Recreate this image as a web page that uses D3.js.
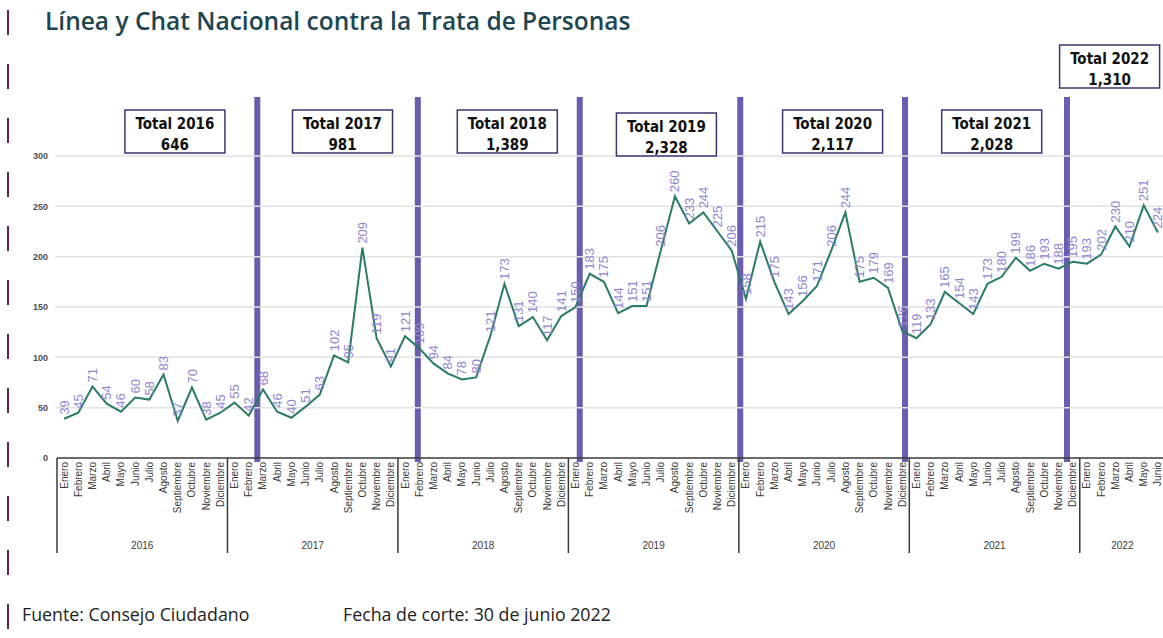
<!DOCTYPE html>
<html>
<head>
<meta charset="utf-8">
<script src="https://cdn.jsdelivr.net/npm/d3@7"></script>
<style>
  body { margin: 0; background: #fff; }
  svg { display: block; }
</style>
</head>
<body>
<svg id="chart" width="1163" height="638"></svg>
<script>
const months = ['Enero', 'Febrero', 'Marzo', 'Abril', 'Mayo', 'Junio', 'Julio',
  'Agosto', 'Septiembre', 'Octubre', 'Noviembre', 'Diciembre'];
const years = ['2016', '2017', '2018', '2019', '2020', '2021', '2022'];

const v2016 = [39, 45, 71, 54, 46, 60, 58, 83, 37, 70, 38, 45];
const v2017 = [55, 42, 68, 46, 40, 51, 63, 102, 95, 209, 119, 91];
const v2018 = [121, 109, 94, 84, 78, 80, 121, 173, 131, 140, 117, 141];
const v2019 = [150, 183, 175, 144, 151, 151, 206, 260, 233, 244, 225, 206];
const v2020 = [158, 215, 175, 143, 156, 171, 206, 244, 175, 179, 169, 126];
const v2021 = [119, 133, 165, 154, 143, 173, 180, 199, 186, 193, 188, 195];
const v2022 = [193, 202, 230, 210, 251, 224];
const yTicks = [0, 50, 100, 150, 200, 250, 300];

const byYear = [v2016, v2017, v2018, v2019, v2020, v2021, v2022];

// flatten into one row per month
const data = [];
byYear.forEach((vals, yi) => {
  vals.forEach((v, mi) => {
    data.push({ key: years[yi] + '-' + mi, year: years[yi], month: months[mi], value: v });
  });
});

// overlay markers, placed in month-index units (as in the original slide)
const dividerAt = [13.6, 24.9, 36.3, 47.6, 59.2, 70.6];
const boxAt = [7.8, 19.6, 31.2, 42.4, 54.1, 65.3, 73.6];
const boxTop = [110, 110, 110, 113, 110, 110, 45];

const svg = d3.select('#chart');
const plotLeft = 57, plotRight = 1165, plotTop = 156, plotBottom = 458;

const x = d3.scaleBand()
  .domain(data.map((d) => d.key))
  .range([plotLeft, plotRight])
  .padding(0);
const step = x.bandwidth();
const xi = d3.scaleLinear().domain([0, 1]).range([plotLeft + step / 2, plotLeft + step * 1.5]);

const y = d3.scaleLinear().domain([0, 300]).range([plotBottom, plotTop]);

// decorative dashed strip at left
svg.append('line')
  .attr('x1', 8).attr('x2', 8).attr('y1', 10).attr('y2', 638)
  .attr('stroke', '#6d1f4c').attr('stroke-width', 2)
  .attr('stroke-dasharray', '25,29');

// title
svg.append('text')
  .attr('x', 45).attr('y', 30)
  .attr('font-family', 'Open Sans').attr('font-weight', 600)
  .attr('font-size', 24.5).attr('fill', '#1e4651')
  .text('Línea y Chat Nacional contra la Trata de Personas');

// purple year dividers
svg.append('g').selectAll('rect')
  .data(dividerAt)
  .enter().append('rect')
  .attr('x', (d) => xi(d) - 3)
  .attr('y', 97)
  .attr('width', 6)
  .attr('height', plotBottom + 4 - 97)
  .attr('fill', '#6a5cae');

// grid
svg.append('g').selectAll('line')
  .data(yTicks.filter((t) => t > 0))
  .enter().append('line')
  .attr('x1', plotLeft - 2).attr('x2', 1163)
  .attr('y1', (d) => y(d)).attr('y2', (d) => y(d))
  .attr('stroke', '#e2e2e2').attr('stroke-width', 1.5);

// y labels
const yAxis = d3.axisLeft(y).tickValues(yTicks).tickSize(0).tickPadding(9);
svg.append('g')
  .attr('transform', `translate(${plotLeft},0)`)
  .call(yAxis)
  .call((g) => g.select('.domain').remove())
  .selectAll('text')
  .attr('font-family', 'Liberation Sans').attr('font-weight', 'bold')
  .attr('font-size', 9).attr('fill', '#4e4e4e');

// x axis with month names
const xAxis = d3.axisBottom(x).tickSize(0).tickFormat((k) => data.find((d) => d.key === k).month);
const gx = svg.append('g')
  .attr('transform', `translate(0,${plotBottom})`)
  .call(xAxis);
gx.select('.domain').remove();
gx.selectAll('text')
  .attr('font-family', 'Liberation Sans').attr('font-size', 10).attr('fill', '#3a3a3a')
  .attr('transform', 'rotate(-90)')
  .attr('text-anchor', 'end')
  .attr('x', -4).attr('y', 0).attr('dy', '0.35em');

svg.append('line')
  .attr('x1', plotLeft).attr('x2', 1163).attr('y1', plotBottom).attr('y2', plotBottom)
  .attr('stroke', '#3a3a3a').attr('stroke-width', 1.5);

// year group separators and labels
const yearStart = years.map((yr) => x(yr + '-0'));
svg.append('g').selectAll('line')
  .data(yearStart)
  .enter().append('line')
  .attr('x1', (d) => d).attr('x2', (d) => d)
  .attr('y1', plotBottom).attr('y2', 553)
  .attr('stroke', '#3a3a3a').attr('stroke-width', 1.5);

svg.append('g').selectAll('text')
  .data(years)
  .enter().append('text')
  .attr('x', (yr, i) => x(yr + '-0') + step * byYear[i].length / 2)
  .attr('y', 549)
  .attr('text-anchor', 'middle')
  .attr('font-family', 'Liberation Sans').attr('font-size', 10).attr('fill', '#3a3a3a')
  .text((d) => d);

// line
const line = d3.line()
  .x((d) => x(d.key) + step / 2)
  .y((d) => y(d.value));

svg.append('path')
  .datum(data)
  .attr('d', line)
  .attr('fill', 'none')
  .attr('stroke', '#2a7c68')
  .attr('stroke-width', 2)
  .attr('stroke-linejoin', 'miter');

// data labels
svg.append('g').selectAll('text')
  .data(data)
  .enter().append('text')
  .attr('transform', (d) => `translate(${x(d.key) + step / 2},${y(d.value) - 4}) rotate(-90)`)
  .attr('dy', '0.35em')
  .attr('font-family', 'Liberation Sans').attr('font-size', 13)
  .attr('fill', '#8f86d0')
  .text((d) => d.value);

// total boxes
const fmt = d3.format(',');
const boxes = svg.append('g').selectAll('g')
  .data(years)
  .enter().append('g')
  .attr('transform', (yr, i) => `translate(${xi(boxAt[i])},${boxTop[i]})`);

boxes.append('rect')
  .attr('x', -50).attr('y', 0).attr('width', 100).attr('height', 43)
  .attr('fill', '#fff').attr('stroke', '#3f3370').attr('stroke-width', 1.5);

boxes.append('text')
  .attr('y', 19).attr('text-anchor', 'middle')
  .attr('font-family', 'DejaVu Sans Condensed, DejaVu Sans').attr('font-weight', 'bold')
  .attr('font-size', 15).attr('fill', '#111')
  .text((yr) => 'Total ' + yr);

boxes.append('text')
  .attr('y', 40).attr('text-anchor', 'middle')
  .attr('font-family', 'DejaVu Sans Condensed, DejaVu Sans').attr('font-weight', 'bold')
  .attr('font-size', 15).attr('fill', '#111')
  .text((yr, i) => fmt(d3.sum(byYear[i])));

// footer
svg.append('text')
  .attr('x', 22).attr('y', 621)
  .attr('font-family', 'Open Sans').attr('font-size', 17.8).attr('fill', '#222')
  .text('Fuente: Consejo Ciudadano');
svg.append('text')
  .attr('x', 343).attr('y', 621)
  .attr('font-family', 'Open Sans').attr('font-size', 17.8).attr('fill', '#222')
  .text('Fecha de corte: 30 de junio 2022');
</script>
</body>
</html>
